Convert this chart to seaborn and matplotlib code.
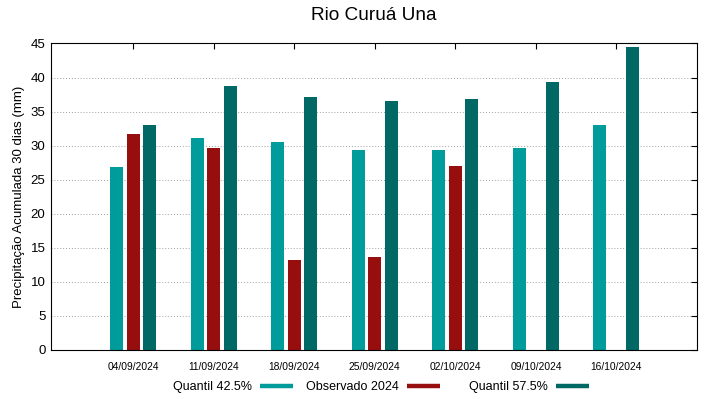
import numpy as np
import pandas as pd
import matplotlib
matplotlib.use("Agg")
import matplotlib.pyplot as plt
import seaborn as sns
from matplotlib.lines import Line2D

dates = ["04/09/2024", "11/09/2024", "18/09/2024", "25/09/2024",
         "02/10/2024", "09/10/2024", "16/10/2024"]
q425 = [26.9, 31.1, 30.5, 29.4, 29.4, 29.7, 33.1]
obs = [31.7, 29.7, 13.2, 13.6, 27.0, np.nan, np.nan]
q575 = [33.1, 38.7, 37.1, 36.5, 36.8, 39.3, 44.5]
series_names = ["Quantil 42.5%", "Observado 2024", "Quantil 57.5%"]
colors = ["#009b9b", "#960e0e", "#006966"]

df = pd.DataFrame({
    "data": dates * 3,
    "valor": q425 + obs + q575,
    "serie": [series_names[0]] * 7 + [series_names[1]] * 7 + [series_names[2]] * 7,
})

sns.set_style("white")
plt.rcParams["font.family"] = ["Liberation Sans", "DejaVu Sans"]
for k in ["text.color", "axes.labelcolor", "xtick.color", "ytick.color"]:
    plt.rcParams[k] = "black"

fig = plt.figure(figsize=(7.19, 3.99), dpi=100)
ax = fig.add_axes([51 / 719, 1 - 350 / 399, (697 - 51) / 719, (350 - 43.5) / 399])

sns.barplot(data=df, x="data", y="valor", hue="serie", hue_order=series_names,
            order=dates, palette=colors, width=0.615, gap=0.21, dodge=True,
            saturation=1, ax=ax, legend=False, errorbar=None, linewidth=0)

ax.set_xlim(-1.02, 7.0)
ax.set_ylim(0, 45)
ax.set_yticks(np.arange(0, 46, 5))
ax.set_xticks(range(len(dates)))
ax.set_xticklabels(dates, fontsize=7.4)
ax.tick_params(axis="y", labelsize=9.5, direction="in", right=True, length=4, width=0.8, pad=4)
ax.tick_params(axis="x", direction="in", top=True, length=4, width=0.8, pad=9)
ax.set_xlabel("")
ax.set_ylabel("Precipitação Acumulada 30 dias (mm)", fontsize=9.5, labelpad=4)
for y in range(5, 45, 5):
    ax.axhline(y, color="#a0a0a0", linestyle=(0, (1, 2)), linewidth=0.7, zorder=0)
for s in ax.spines.values():
    s.set_color("black")
    s.set_linewidth(0.8)
ax.set_axisbelow(True)

fig.text(374 / 719, 1 - 15 / 399, "Rio Curuá Una", fontsize=13.7, ha="center", va="center")

legend_x = [173, 306, 469]
for name, c, lx in zip(series_names, colors, legend_x):
    h = Line2D([0], [0], color=c, lw=3.2, solid_capstyle="butt")
    fig.legend([h], [name], loc="center left", bbox_to_anchor=(lx / 719, 1 - 387 / 399),
               frameon=False, markerfirst=False, fontsize=9, borderpad=0,
               borderaxespad=0, handlelength=2.64, handletextpad=0.64)

fig.savefig("out.png", dpi=100)
